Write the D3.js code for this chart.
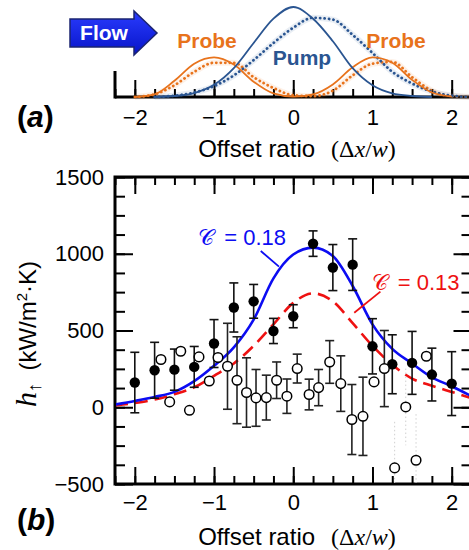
<html>
<head>
<meta charset="utf-8">
<title>Offset ratio</title>
<script src="https://d3js.org/d3.v7.min.js"></script>
</head>
<body>
<div class="chart-wrapper"></div>
</body>
<script>
    // (a) beam profiles, sampled every 0.25 of offset ratio (null = not drawn)
    var profileX = [-2.25, -2, -1.75, -1.5, -1.25, -1, -0.75, -0.5, -0.25, 0, 0.25, 0.5, 0.75, 1, 1.25, 1.5, 1.75, 2, 2.25];
    var pumpSolid = [null, null, 0, 0.011, 0.044, 0.135, 0.32, 0.6, 0.87, 1, 0.87, 0.62, 0.32, 0.13, 0.04, 0.011, 0, null, null];
    var pumpDotted = [null, null, 0, 0.015, 0.05, 0.12, 0.24, 0.41, 0.6, 0.77, 0.88, 0.86, 0.69, 0.49, 0.28, 0.15, 0.06, 0.015, 0];
    var probeSolid = [null, 0, 0.03, 0.18, 0.37, 0.44, 0.36, 0.17, 0.04, 0.005, 0.03, 0.14, 0.33, 0.44, 0.38, 0.19, 0.05, 0.005, null];
    var probeDotted = [null, 0, 0.03, 0.13, 0.28, 0.38, 0.38, 0.22, 0.1, 0.02, 0.01, 0.07, 0.24, 0.37, 0.39, 0.22, 0.07, 0.01, 0];

    // (b) measured h (kW/m2K)
    var filledX = [-2, -1.75, -1.5, -1.25, -1, -0.75, -0.5, -0.25, 0, 0.25, 0.5, 0.75, 1, 1.25, 1.5, 1.75, 2];
    var filledH = [161, 241, 245, 263, 415, 650, 690, 497, 593, 1066, 910, 929, 397, 280, 289, 213, 154];
    var filledErr = [197, 182, 134, 133, 156, 160, 110, 82, 75, 83, 150, 168, 180, 192, 205, 172, 208];

    var openX = [-1.67, -1.56, -1.42, -1.31, -1.19, -1.06, -0.95, -0.83, -0.71, -0.59, -0.47, -0.34, -0.21, -0.08, 0.05, 0.2, 0.32, 0.46, 0.6, 0.74, 0.88, 1.02, 1.15, 1.28, 1.42, 1.55, 1.68];
    var openH = [311, 35, 365, -20, 328, 171, 324, 267, 176, 96, 61, 63, 176, 72, 252, 83, 128, 295, 154, -80, -59, 165, 252, -395, 2, -345, 332];
    var openErr = [0, 0, 0, 0, 0, 0, 0, 280, 283, 226, 185, 146, 119, 112, 94, 100, 118, 139, 181, 228, 255, 0, 248, 0, 0, 0, 0];
    var openFaintErr = [0, 0, 0, 0, 0, 0, 0, 0, 0, 0, 0, 0, 0, 0, 0, 0, 0, 0, 0, 0, 0, 0, 0, 300, 250, 300, 0];

    // model curves, every 0.25 from -2.25 to 2.25
    var fitX = profileX;
    var fit018 = [18, 41, 67, 100, 170, 270, 390, 571, 840, 995, 1040, 985, 790, 540, 380, 285, 195, 137, 72];
    var fit013 = [13, 28, 50, 85, 130, 205, 285, 400, 540, 680, 742, 690, 548, 400, 277, 187, 140, 100, 60];

    var hTicks = [-500, 0, 500, 1000, 1500];
    var offsetTicks = [-2, -1, 0, 1, 2];

    var width = 469, height = 550;
    var sans = '"Liberation Sans", Arial, sans-serif';
    var serif = '"Liberation Serif", "DejaVu Serif", serif';
    var orange = '#e8731c', pumpBlue = '#2a5591';
    var fitBlue = '#0c0cf2', fitRed = '#ee1111';

    var svg = d3.select('.chart-wrapper')
        .append('svg')
        .attr('width', width).attr('height', height)
        .style('background', '#fff');

    var x = d3.scaleLinear().domain([-2.25, 2.25]).range([115, 471.5]);
    var minorX = d3.range(-2.25, 2.26, 0.25);

    function noDomain(g) { g.select('.domain').remove(); }

    // ---------- panel (a) ----------
    var ya = d3.scaleLinear().domain([0, 1]).range([97, 7]);
    var panelA = svg.append('g').attr('id', 'panel-a');

    panelA.append('g')
        .attr('transform', 'translate(0,97)')
        .call(d3.axisBottom(x).tickValues(minorX).tickSize(-8).tickFormat(''))
        .call(noDomain);
    panelA.append('g')
        .attr('class', 'major')
        .attr('transform', 'translate(0,97)')
        .call(d3.axisBottom(x).tickValues(offsetTicks).tickSize(-17).tickPadding(12).tickFormat(d3.format('d')))
        .call(noDomain);

    panelA.append('line').attr('x1', 115).attr('x2', width).attr('y1', 97).attr('y2', 97)
        .attr('stroke', '#000').attr('stroke-width', 3);
    panelA.append('line').attr('x1', 115).attr('x2', 115).attr('y1', 71).attr('y2', 98.5)
        .attr('stroke', '#000').attr('stroke-width', 3);

    var profileLine = function (vals) {
        return d3.line()
            .defined(function (d, i) { return vals[i] !== null; })
            .x(function (d, i) { return x(profileX[i]); })
            .y(function (d, i) { return ya(vals[i]); })
            .curve(d3.curveMonotoneX)(vals);
    };

    // faint halo under the dotted profiles
    [[pumpDotted, pumpBlue], [probeDotted, orange]].forEach(function (s) {
        panelA.append('path').attr('d', profileLine(s[0]))
            .attr('fill', 'none').attr('stroke', s[1]).attr('stroke-width', 6).attr('opacity', 0.1);
    });
    [[probeDotted, orange], [pumpDotted, pumpBlue]].forEach(function (s) {
        panelA.append('path').attr('d', profileLine(s[0]))
            .attr('fill', 'none').attr('stroke', s[1]).attr('stroke-width', 2.8)
            .attr('stroke-linecap', 'round').attr('stroke-dasharray', '0.1,4.4');
    });
    [[probeSolid, orange], [pumpSolid, pumpBlue]].forEach(function (s) {
        panelA.append('path').attr('d', profileLine(s[0]))
            .attr('fill', 'none').attr('stroke', s[1]).attr('stroke-width', 1.8);
    });

    // flow arrow
    var grad = svg.append('defs').append('linearGradient').attr('id', 'flowgrad')
        .attr('x1', 0).attr('x2', 0).attr('y1', 0).attr('y2', 1);
    grad.append('stop').attr('offset', '0%').attr('stop-color', '#2a3cff');
    grad.append('stop').attr('offset', '100%').attr('stop-color', '#0714c8');
    panelA.append('path')
        .attr('d', 'M70,19 L134,19 L134,11 L157,33 L134,55 L134,47 L70,47 Z')
        .attr('fill', 'url(#flowgrad)').attr('stroke', '#1b2470').attr('stroke-width', 1.5);
    panelA.append('text').attr('x', 104).attr('y', 40).attr('text-anchor', 'middle')
        .attr('fill', '#fff').style('font', 'bold 21px ' + sans).text('Flow');

    panelA.append('text').attr('x', 207).attr('y', 48).attr('text-anchor', 'middle')
        .attr('fill', orange).style('font', 'bold 21px ' + sans).text('Probe');
    panelA.append('text').attr('x', 396).attr('y', 48).attr('text-anchor', 'middle')
        .attr('fill', orange).style('font', 'bold 21px ' + sans).text('Probe');
    panelA.append('text').attr('x', 302).attr('y', 65).attr('text-anchor', 'middle')
        .attr('fill', pumpBlue).style('font', 'bold 21px ' + sans).text('Pump');

    // ---------- panel (b) ----------
    var yb = d3.scaleLinear().domain([-500, 1500]).range([484, 177]);
    var panelB = svg.append('g').attr('id', 'panel-b');
    var minorY = d3.range(-500, 1501, 125);

    panelB.append('g').attr('transform', 'translate(0,484)')
        .call(d3.axisBottom(x).tickValues(minorX).tickSize(-8).tickFormat('')).call(noDomain);
    panelB.append('g').attr('class', 'major').attr('transform', 'translate(0,484)')
        .call(d3.axisBottom(x).tickValues(offsetTicks).tickSize(-17).tickPadding(10).tickFormat(d3.format('d'))).call(noDomain);
    panelB.append('g').attr('transform', 'translate(0,177)')
        .call(d3.axisTop(x).tickValues(minorX).tickSize(-8).tickFormat('')).call(noDomain);
    panelB.append('g').attr('transform', 'translate(0,177)')
        .call(d3.axisTop(x).tickValues(offsetTicks).tickSize(-17).tickFormat('')).call(noDomain);
    panelB.append('g').attr('transform', 'translate(115,0)')
        .call(d3.axisLeft(yb).tickValues(minorY).tickSize(-10).tickFormat('')).call(noDomain);
    panelB.append('g').attr('class', 'major').attr('transform', 'translate(115,0)')
        .call(d3.axisLeft(yb).tickValues(hTicks).tickSize(-18).tickPadding(11).tickFormat(d3.format('d'))).call(noDomain);
    panelB.append('g').attr('transform', 'translate(471.5,0)')
        .call(d3.axisRight(yb).tickValues(minorY).tickSize(-10).tickFormat('')).call(noDomain);
    panelB.append('g').attr('transform', 'translate(471.5,0)')
        .call(d3.axisRight(yb).tickValues(hTicks).tickSize(-18).tickFormat('')).call(noDomain);

    svg.selectAll('.tick line').attr('stroke', '#000').attr('stroke-width', 2);
    svg.selectAll('.major text').attr('fill', '#000').style('font', '22px ' + sans);

    panelB.append('rect').attr('x', 115).attr('y', 177).attr('width', 356.5).attr('height', 307)
        .attr('fill', 'none').attr('stroke', '#000').attr('stroke-width', 3);

    panelB.append('clipPath').attr('id', 'plotclip').append('rect')
        .attr('x', 116).attr('y', 178).attr('width', 355).attr('height', 305);
    var plot = panelB.append('g').attr('clip-path', 'url(#plotclip)');

    var fitLine = function (vals) {
        return d3.line()
            .x(function (d, i) { return x(fitX[i]); })
            .y(function (d) { return yb(d); })
            .curve(d3.curveMonotoneX)(vals);
    };
    plot.append('path').attr('d', fitLine(fit013)).attr('fill', 'none')
        .attr('stroke', fitRed).attr('stroke-width', 2.6).attr('stroke-dasharray', '13,7');
    plot.append('path').attr('d', fitLine(fit018)).attr('fill', 'none')
        .attr('stroke', fitBlue).attr('stroke-width', 2.6);

    // error bars
    function errBars(g, xs, hs, errs, color, dash) {
        xs.forEach(function (xv, i) {
            if (!errs[i]) return;
            var cx = x(xv), y1 = yb(hs[i] + errs[i]), y2 = yb(hs[i] - errs[i]);
            var e = g.append('g').attr('stroke', color).attr('stroke-width', dash ? 1 : 1.6)
                .attr('stroke-dasharray', dash || null);
            e.append('line').attr('x1', cx).attr('x2', cx).attr('y1', y1).attr('y2', y2);
            if (!dash) {
                e.append('line').attr('x1', cx - 4.5).attr('x2', cx + 4.5).attr('y1', y1).attr('y2', y1);
                e.append('line').attr('x1', cx - 4.5).attr('x2', cx + 4.5).attr('y1', y2).attr('y2', y2);
            }
        });
    }
    errBars(plot, openX, openH, openFaintErr, '#d0d0d0', '1.5,2.5');
    errBars(plot, openX, openH, openErr, '#222', null);
    errBars(plot, filledX, filledH, filledErr, '#111', null);

    plot.selectAll('circle.filled')
        .data(filledX)
        .enter()
        .append('circle')
        .attr('class', 'filled')
        .attr('cx', function (d) { return x(d); })
        .attr('cy', function (d, i) { return yb(filledH[i]); })
        .attr('r', 5.2)
        .attr('fill', '#000');

    plot.selectAll('circle.open')
        .data(openX)
        .enter()
        .append('circle')
        .attr('class', 'open')
        .attr('cx', function (d) { return x(d); })
        .attr('cy', function (d, i) { return yb(openH[i]); })
        .attr('r', 4.8)
        .attr('fill', '#fff')
        .attr('stroke', '#000')
        .attr('stroke-width', 1.5);

    // C annotations
    panelB.append('line').attr('x1', x(-0.41)).attr('y1', yb(1018)).attr('x2', x(-0.18)).attr('y2', yb(916))
        .attr('stroke', fitBlue).attr('stroke-width', 1.8);
    panelB.append('line').attr('x1', x(1.1)).attr('y1', yb(753)).attr('x2', x(0.77)).attr('y2', yb(616))
        .attr('stroke', fitRed).attr('stroke-width', 1.8);
    var c1 = panelB.append('text').attr('x', x(-1.2)).attr('y', yb(1057)).attr('fill', fitBlue).style('font', '22px ' + sans);
    c1.append('tspan').style('font-family', serif).text('\u{1D49E}');
    c1.append('tspan').attr('dx', 4).text(' = 0.18');
    var c2 = panelB.append('text').attr('x', x(0.99)).attr('y', yb(764)).attr('fill', fitRed).style('font', '22px ' + sans);
    c2.append('tspan').style('font-family', serif).text('\u{1D49E}');
    c2.append('tspan').attr('dx', 4).text(' = 0.13');

    // axis titles
    function offsetTitle(yBase) {
        var t = svg.append('text').attr('x', 297).attr('y', yBase).attr('text-anchor', 'middle')
            .attr('fill', '#000').style('font', '24px ' + sans);
        t.append('tspan').text('Offset ratio');
        t.append('tspan').attr('dx', 16).style('font-family', serif).text('(\u0394');
        t.append('tspan').style('font-family', serif).style('font-style', 'italic').text('x');
        t.append('tspan').style('font-family', serif).text('/');
        t.append('tspan').style('font-family', serif).style('font-style', 'italic').text('w');
        t.append('tspan').style('font-family', serif).text(')');
    }
    offsetTitle(157);
    offsetTitle(545);

    var yl = svg.append('text').attr('transform', 'translate(36,334) rotate(-90)')
        .attr('text-anchor', 'middle').attr('fill', '#000').style('font', '24px ' + sans);
    yl.append('tspan').style('font-family', serif).style('font-style', 'italic').style('font-size', '30px').text('h');
    yl.append('tspan').attr('dy', 5).style('font-size', '19px').text('\u2191');
    yl.append('tspan').attr('dy', -5).attr('dx', 12).text('(kW/m');
    yl.append('tspan').attr('dy', -9).style('font-size', '15px').text('2');
    yl.append('tspan').attr('dy', 9).text('\u00B7K)');

    // panel letters
    [['a', 127], ['b', 530]].forEach(function (p) {
        var t = svg.append('text').attr('x', 17).attr('y', p[1]).attr('fill', '#000')
            .style('font', 'bold 30px ' + sans);
        t.append('tspan').text('(');
        t.append('tspan').style('font-style', 'italic').text(p[0]);
        t.append('tspan').text(')');
    });
</script>
<style>
    body { margin: 0; background-color: #fff; }
</style>
</html>
